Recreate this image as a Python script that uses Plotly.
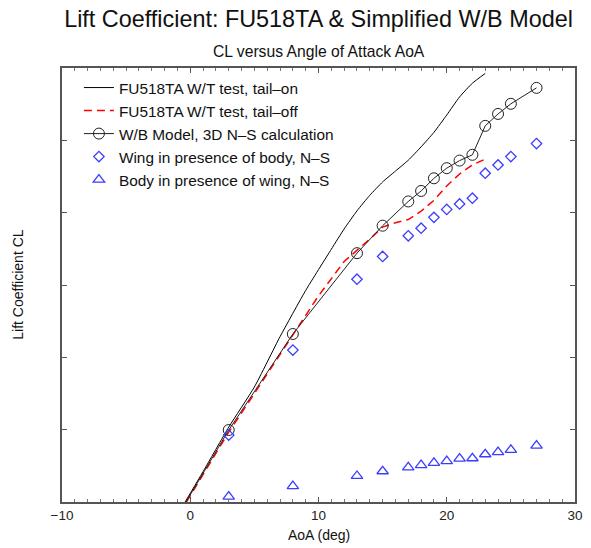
import plotly.graph_objects as go

# ---- data ----
aoa_tail_on = [-0.4, 1, 3, 5, 7, 9, 11, 12, 13, 14, 15, 16, 17, 18, 19, 20, 21, 22, 23]
cl_tail_on = [0.0, 0.084, 0.207, 0.318, 0.457, 0.585, 0.699, 0.755, 0.805, 0.848, 0.885, 0.915, 0.945, 0.982, 1.022, 1.070, 1.120, 1.158, 1.185]

aoa_tail_off = [-0.3, 3, 5, 8, 10, 12, 13, 14, 15, 16, 17, 18, 19, 20, 21, 22, 23]
cl_tail_off = [0.0, 0.193, 0.300, 0.462, 0.570, 0.665, 0.695, 0.727, 0.760, 0.772, 0.781, 0.804, 0.834, 0.874, 0.907, 0.932, 0.948]

aoa_wb = [-1, 3, 8, 13, 15, 17, 18, 19, 20, 21, 22, 23, 24, 25, 27]
cl_wb = [-0.04, 0.199, 0.4645, 0.688, 0.764, 0.831, 0.860, 0.895, 0.923, 0.944, 0.960, 1.040, 1.073, 1.101, 1.145]

aoa_ns = [3, 8, 13, 15, 17, 18, 19, 20, 21, 22, 23, 24, 25, 27]
cl_wing = [0.185, 0.420, 0.616, 0.679, 0.736, 0.757, 0.787, 0.809, 0.824, 0.840, 0.909, 0.932, 0.955, 0.991]
cl_body = [0.015, 0.044, 0.072, 0.085, 0.096, 0.102, 0.108, 0.113, 0.120, 0.121, 0.132, 0.138, 0.144, 0.156]

x_range = [-10, 30]
y_range = [0, 1.2]

FONT = "Liberation Sans, Arial, sans-serif"
BLUE = "rgb(60,60,255)"

fig = go.Figure()
fig.add_trace(go.Scatter(x=aoa_tail_on, y=cl_tail_on, mode="lines",
                         line=dict(color="black", width=1, shape="spline", smoothing=0.5),
                         name="FU518TA W/T test, tail\u2013on"))
fig.add_trace(go.Scatter(x=aoa_tail_off, y=cl_tail_off, mode="lines",
                         line=dict(color="red", width=1.5, dash="8px,5px"),
                         name="FU518TA W/T test, tail\u2013off"))
fig.add_trace(go.Scatter(x=aoa_wb, y=cl_wb, mode="lines+markers",
                         line=dict(color="#222", width=1),
                         marker=dict(symbol="circle-open", size=11, color="#222",
                                     line=dict(width=1)),
                         name="W/B Model, 3D N\u2013S calculation"))
fig.add_trace(go.Scatter(x=aoa_ns, y=cl_wing, mode="markers",
                         marker=dict(symbol="diamond-open", size=8, color=BLUE,
                                     line=dict(width=1.3)),
                         name="Wing in presence of body, N\u2013S"))
fig.add_trace(go.Scatter(x=aoa_ns, y=cl_body, mode="markers",
                         marker=dict(symbol="triangle-up-open", size=10, color=BLUE,
                                     line=dict(width=1.3)),
                         name="Body in presence of wing, N\u2013S"))

axis_common = dict(showgrid=False, zeroline=False, showline=True, linecolor="#555",
                   linewidth=1.5, mirror="ticks", ticks="inside", tickcolor="#555",
                   ticklen=5, tickwidth=1)

fig.update_xaxes(range=x_range, dtick=10, tick0=0,
                 minor=dict(dtick=1, ticks="inside", ticklen=3, tickcolor="#777"),
                 tickfont=dict(size=13.5, color="#222", family=FONT), **axis_common)
fig.update_yaxes(range=y_range, dtick=0.2, tick0=0, showticklabels=False, **axis_common)

fig.update_layout(
    width=591, height=548,
    margin=dict(l=62, r=8, t=68, b=46),
    paper_bgcolor="white", plot_bgcolor="white",
    font=dict(family=FONT, color="#222"),
    title=dict(text="Lift Coefficient: FU518TA & Simplified W/B Model",
               x=0.5, xref="paper", xanchor="center",
               y=1 - 19 / 548, yref="container", yanchor="middle",
               font=dict(size=23.4, color="#111", family=FONT)),
    showlegend=True,
    legend=dict(x=0.033, y=0.993, xanchor="left", yanchor="top",
                bgcolor="rgba(0,0,0,0)", borderwidth=0,
                font=dict(size=15.4, color="#111", family=FONT),
                tracegroupgap=0),
    annotations=[
        dict(text="CL versus Angle of Attack AoA", x=0.5, y=1 + 16 / 434,
             xref="paper", yref="paper", xanchor="center", yanchor="middle",
             showarrow=False, font=dict(size=15.7, color="#111", family=FONT)),
        dict(text="AoA (deg)", x=0.5, y=-33 / 434, xref="paper", yref="paper",
             xanchor="center", yanchor="middle", showarrow=False,
             font=dict(size=14, color="#111", family=FONT)),
        dict(text="Lift Coefficient CL", x=-45 / 521, y=0.5, xref="paper", yref="paper",
             xanchor="center", yanchor="middle", textangle=-90, showarrow=False,
             font=dict(size=14, color="#111", family=FONT)),
    ],
)

fig.write_html("out.html")
